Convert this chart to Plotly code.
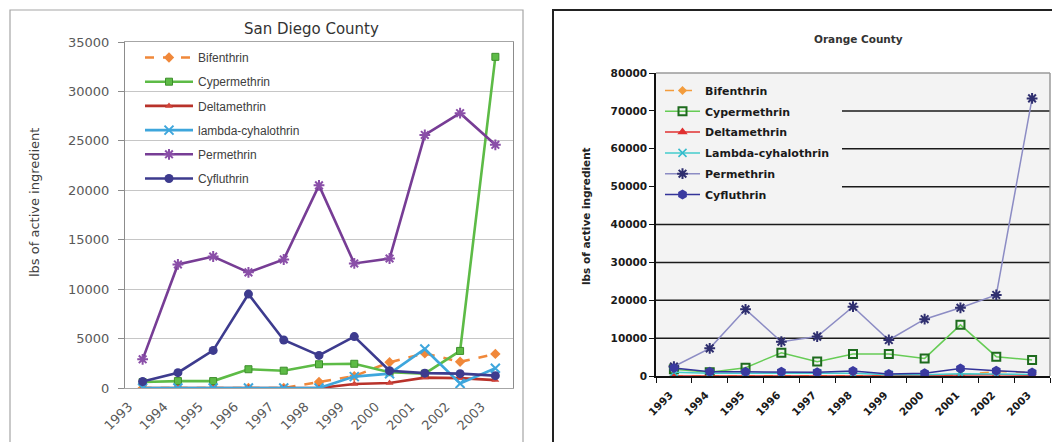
import plotly.graph_objects as go

W, H = 1052, 442

years = ["1993", "1994", "1995", "1996", "1997", "1998", "1999", "2000", "2001", "2002", "2003"]
series_names = ["Bifenthrin", "Cypermethrin", "Deltamethrin", "lambda-cyhalothrin", "Permethrin", "Cyfluthrin"]
series_names_oc = ["Bifenthrin", "Cypermethrin", "Deltamethrin", "Lambda-cyhalothrin", "Permethrin", "Cyfluthrin"]

# San Diego County, lbs of active ingredient
sd_bifenthrin = [0, 0, 0, 0, 0, 600, 1200, 2600, 3500, 2650, 3450]
sd_cypermethrin = [600, 700, 700, 1900, 1750, 2400, 2450, 1600, 1450, 3750, 33500]
sd_deltamethrin = [0, 0, 0, 0, 0, 0, 400, 500, 1050, 1000, 800]
sd_lambda = [0, 0, 0, 0, 0, 0, 1150, 1450, 3950, 450, 2000]
sd_permethrin = [2900, 12500, 13300, 11700, 13000, 20500, 12600, 13100, 25600, 27800, 24600]
sd_cyfluthrin = [650, 1550, 3800, 9500, 4850, 3300, 5200, 1750, 1500, 1450, 1250]

# Orange County, lbs of active ingredient
oc_bifenthrin = [0, 0, 0, 0, 0, 0, 0, 100, 300, 1200, 900]
oc_cypermethrin = [1800, 1000, 2200, 6150, 3800, 5800, 5800, 4650, 13500, 5100, 4200]
oc_deltamethrin = [0, 0, 0, 0, 0, 0, 0, 200, 300, 300, 200]
oc_lambda = [1000, 700, 700, 700, 700, 700, 300, 300, 600, 500, 400]
oc_permethrin = [2500, 7300, 17600, 9050, 10400, 18300, 9500, 15000, 18000, 21400, 73300]
oc_cyfluthrin = [2100, 1150, 1100, 1100, 1000, 1300, 500, 700, 2000, 1400, 900]

sd_ticks = [0, 5000, 10000, 15000, 20000, 25000, 30000, 35000]
oc_ticks = [0, 10000, 20000, 30000, 40000, 50000, 60000, 70000, 80000]


def fx(px):
    return px / W


def fy(py):
    return 1 - py / H


fig = go.Figure()

# ---- San Diego County traces (Excel 2007 look) ----
sd_styles = [
    (sd_bifenthrin, "#f0883a", "dash", dict(symbol="diamond", size=8, color="#f0883a")),
    (sd_cypermethrin, "#5dbb46", "solid", dict(symbol="square", size=7, color="#5dbb46", line=dict(color="#3d8f2c", width=1))),
    (sd_deltamethrin, "#b8322a", "solid", dict(symbol="triangle-up", size=7, color="#d0443a")),
    (sd_lambda, "#3ea6dc", "solid", dict(symbol="x-thin-open", size=9, color="#3ea6dc", line=dict(color="#3ea6dc", width=2))),
    (sd_permethrin, "#773d95", "solid", dict(symbol="asterisk-open", size=9, color="#8a4fa8", line=dict(color="#8a4fa8", width=2))),
    (sd_cyfluthrin, "#3d3b8e", "solid", dict(symbol="circle", size=9, color="#3d3b8e")),
]
for i, (vals, col, dash, mk) in enumerate(sd_styles):
    fig.add_trace(go.Scatter(
        x=years, y=vals, name=series_names[i], mode="lines+markers",
        line=dict(color=col, width=2.6, dash=dash), marker=mk,
        xaxis="x", yaxis="y", legend="legend", legendgroup="sd%d" % i,
    ))

# ---- Orange County traces ----
oc_styles = [
    (oc_bifenthrin, "#f39c3c", "dash", dict(symbol="diamond", size=7, color="#f39c3c")),
    (oc_cypermethrin, "#66cc55", "solid", dict(symbol="square-open", size=8, color="#1e6b1e", line=dict(color="#1e6b1e", width=2))),
    (oc_deltamethrin, "#e03030", "solid", dict(symbol="triangle-up", size=9, color="#e03030")),
    (oc_lambda, "#44cccc", "solid", dict(symbol="x-thin-open", size=8, color="#33bbcc", line=dict(color="#33bbcc", width=1.5))),
    (oc_permethrin, "#8c8cc4", "solid", dict(symbol="asterisk-open", size=9, color="#2f2f6f", line=dict(color="#2f2f6f", width=2))),
    (oc_cyfluthrin, "#333399", "solid", dict(symbol="hexagon", size=10, color="#3a3aa0")),
]
for i, (vals, col, dash, mk) in enumerate(oc_styles):
    fig.add_trace(go.Scatter(
        x=years, y=vals, name=series_names_oc[i], mode="lines+markers",
        line=dict(color=col, width=1.5, dash=dash), marker=mk,
        xaxis="x2", yaxis="y2", legend="legend2", legendgroup="oc%d" % i,
    ))

left_font = dict(family="DejaVu Sans", size=13, color="#595959")
right_font = dict(family="DejaVu Sans", size=10.5, color="#1a1a1a", weight="bold")

shapes = [
    # chart frames
    dict(type="rect", xref="paper", yref="paper", x0=fx(10), x1=fx(523), y0=fy(446), y1=fy(10),
         line=dict(color="#a6a6a6", width=1.2), layer="below"),
    dict(type="rect", xref="paper", yref="paper", x0=fx(553), x1=fx(1054), y0=fy(446), y1=fy(10),
         line=dict(color="#222222", width=2), layer="below"),
    # Orange County plot background
    dict(type="rect", xref="paper", yref="paper", x0=fx(656), x1=fx(1050), y0=fy(376), y1=fy(73),
         fillcolor="#f3f3f3", line=dict(width=0), layer="below"),
]
# Orange County gridlines; the upper ones stop where the legend panel sits
for v in oc_ticks[1:-1]:
    shapes.append(dict(type="line", xref="paper", yref="y2", x0=fx(842 if v >= 50000 else 656), x1=fx(1050),
                       y0=v, y1=v, line=dict(color="#1a1a1a", width=1.5), layer="below"))
shapes += [
    # top and right edges of the Orange County plot area
    dict(type="line", xref="paper", yref="paper", x0=fx(656), x1=fx(1050), y0=fy(73), y1=fy(73),
         line=dict(color="#9a9a9a", width=1.5), layer="below"),
    dict(type="line", xref="paper", yref="paper", x0=fx(1050), x1=fx(1050), y0=fy(376), y1=fy(73),
         line=dict(color="#9a9a9a", width=1.5), layer="below"),
]

annotations = [
    dict(text="San Diego County", x=fx(311), y=fy(29), xref="paper", yref="paper",
         xanchor="center", yanchor="middle",
         showarrow=False, font=dict(family="DejaVu Sans", size=15, color="#333333")),
    dict(text="lbs of active ingredient", x=fx(35), y=fy(203), xref="paper", yref="paper",
         xanchor="center", yanchor="middle",
         showarrow=False, textangle=-90, font=dict(family="DejaVu Sans", size=13, color="#404040")),
    dict(text="Orange County", x=fx(858), y=fy(39), xref="paper", yref="paper",
         xanchor="center", yanchor="middle",
         showarrow=False, font=dict(family="DejaVu Sans", size=10.5, color="#333333", weight="bold")),
    dict(text="lbs of active ingredient", x=fx(586), y=fy(216), xref="paper", yref="paper",
         xanchor="center", yanchor="middle",
         showarrow=False, textangle=-90, font=dict(family="DejaVu Sans", size=10.5, color="#222222", weight="bold")),
]

fig.update_layout(
    width=W, height=H, margin=dict(l=0, r=0, t=0, b=0),
    paper_bgcolor="white", plot_bgcolor="rgba(0,0,0,0)",
    shapes=shapes, annotations=annotations,
    xaxis=dict(domain=[fx(125), fx(513)], anchor="y", type="category", range=[-0.5, 10.5],
               showgrid=False, showline=True, linecolor="#a6a6a6", mirror=True,
               ticks="", tickangle=-45, tickfont=left_font, ticklabelshift=-14, ticklabelstandoff=5,
               automargin=False, fixedrange=True),
    yaxis=dict(domain=[fy(388), fy(42)], anchor="x", range=[0, 35000], tickvals=sd_ticks, tickformat="d",
               showgrid=True, gridcolor="#c6c6c6", gridwidth=1, showline=True, linecolor="#8c8c8c",
               mirror=True, ticks="outside", ticklen=6, tickcolor="#8c8c8c",
               tickfont=left_font, ticklabelstandoff=6, zeroline=False, automargin=False),
    xaxis2=dict(domain=[fx(656), fx(1050)], anchor="y2", type="category", range=[-0.5, 10.5],
                showgrid=False, showline=True, linecolor="#111111", linewidth=1.5,
                ticks="outside", ticklen=5, tickcolor="#111111", tickson="boundaries",
                tickangle=-45, tickfont=right_font, ticklabelshift=-4, ticklabelstandoff=7,
                automargin=False),
    yaxis2=dict(domain=[fy(376), fy(73)], anchor="x2", range=[0, 80000], tickvals=oc_ticks, tickformat="d",
                showgrid=False, showline=True,
                linecolor="#111111", linewidth=1.5, ticks="outside", ticklen=5, tickcolor="#111111",
                tickfont=right_font, zeroline=False, automargin=False),
    legend=dict(x=fx(140), y=fy(43), xanchor="left", yanchor="top", bgcolor="rgba(0,0,0,0)",
                font=dict(family="Liberation Sans", size=12, color="#404040"),
                tracegroupgap=5.2, itemwidth=48, traceorder="grouped"),
    legend2=dict(x=fx(660), y=fy(76), xanchor="left", yanchor="top", bgcolor="rgba(0,0,0,0)",
                 font=dict(family="DejaVu Sans", size=11, color="#1a1a1a", weight="bold"),
                 tracegroupgap=1.8, itemwidth=35, traceorder="grouped"),
)

fig.write_html("out.html")
